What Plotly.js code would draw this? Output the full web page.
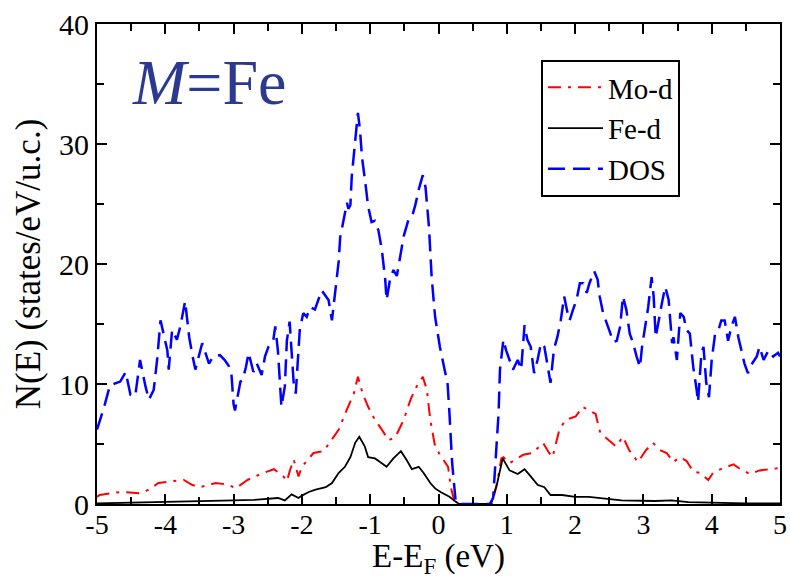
<!DOCTYPE html>
<html>
<head>
<meta charset="utf-8">
<script src="https://cdn.plot.ly/plotly-3.0.1.min.js"></script>
<style>html,body{margin:0;padding:0;background:#fff;}#chart{width:790px;height:579px;}</style>
</head>
<body>
<div id="chart"></div>
<script>
// ---- data ----
var dosE = [-5.0,-4.9,-4.81,-4.66,-4.58,-4.51,-4.44,-4.37,-4.29,-4.24,-4.17,-4.12,-4.07,-4.02,-3.97,-3.95,-3.90,-3.83,-3.78,-3.71,-3.65,-3.60,-3.56,-3.46,-3.36,-3.30,-3.20,-3.13,-3.07,-3.03,-3.0,-2.98,-2.9,-2.87,-2.82,-2.78,-2.71,-2.66,-2.59,-2.54,-2.49,-2.42,-2.39,-2.35,-2.30,-2.25,-2.22,-2.18,-2.15,-2.12,-2.09,-2.06,-2.03,-1.98,-1.93,-1.88,-1.81,-1.76,-1.71,-1.66,-1.61,-1.56,-1.51,-1.46,-1.44,-1.39,-1.34,-1.32,-1.29,-1.27,-1.23,-1.20,-1.18,-1.15,-1.12,-1.07,-1.03,-0.98,-0.93,-0.88,-0.83,-0.78,-0.76,-0.71,-0.66,-0.61,-0.56,-0.51,-0.44,-0.39,-0.34,-0.29,-0.23,-0.19,-0.14,-0.10,-0.05,0.02,0.10,0.13,0.16,0.20,0.25,0.30,0.75,0.80,0.83,0.88,0.90,0.95,0.99,1.04,1.09,1.16,1.21,1.26,1.30,1.35,1.40,1.45,1.50,1.55,1.60,1.64,1.69,1.74,1.79,1.84,1.89,1.92,1.97,2.02,2.07,2.12,2.17,2.21,2.28,2.33,2.36,2.41,2.48,2.56,2.61,2.66,2.70,2.75,2.80,2.85,2.90,2.95,2.98,3.02,3.07,3.12,3.15,3.18,3.23,3.28,3.32,3.37,3.42,3.44,3.49,3.54,3.59,3.63,3.68,3.73,3.78,3.80,3.85,3.88,3.92,3.96,4.00,4.05,4.10,4.14,4.19,4.24,4.29,4.34,4.39,4.44,4.48,4.53,4.58,4.66,4.70,4.76,4.83,4.90,4.97,5.0];
var dosN = [6.2,8.0,9.9,10.2,11.0,9.1,9.0,12.0,9.8,8.7,9.5,12.0,15.3,13.9,12.8,11.2,14.5,13.7,14.8,16.9,13.9,12.3,11.2,13.4,11.7,12.3,12.4,12.0,11.5,10.7,8.3,7.8,10.2,10.3,11.4,12.6,11.0,11.7,10.75,12.3,13.1,13.6,14.8,12.7,8.1,9.8,13.6,15.2,12.5,10.1,9.2,12.0,14.6,15.9,15.6,16.4,16.2,17.0,17.8,17.4,17.0,15.3,18.1,20.3,22.2,23.7,25.1,24.6,24.9,27.3,29.8,31.7,32.6,31.2,28.9,26.7,24.8,23.5,23.6,22.8,21.2,18.7,17.0,18.7,19.5,19.0,20.6,22.3,23.7,23.9,24.9,26.2,27.4,26.4,23.1,18.9,15.6,13.1,10.9,10.3,7.6,3.4,0.3,0,0,0.5,3.1,7.6,11.2,13.7,12.8,12.0,11.2,12.0,11.2,14.9,13.7,13.1,10.9,12.0,13.4,13.1,11.5,10.1,12.9,13.9,15.3,17.3,15.9,15.3,16.2,17.0,18.4,18.4,17.6,18.4,19.4,18.7,17.3,15.9,14.8,13.5,13.6,14.8,17.3,16.2,14.2,13.4,12.3,11.4,13.1,14.5,16.4,18.9,17.3,13.9,15.6,17.0,18.1,17.0,13.4,13.9,12.0,15.9,15.6,14.5,14.2,11.4,9.5,8.5,12.6,13.1,10.1,8.9,12.0,14.2,14.5,15.3,15.3,13.6,14.8,15.6,13.9,12.8,11.7,10.9,11.6,12.3,13.1,12.0,12.8,12.3,12.6,12.3];

var moE = [-5.0,-4.96,-4.66,-4.37,-4.24,-4.10,-3.90,-3.73,-3.61,-3.50,-3.26,-3.07,-2.97,-2.80,-2.56,-2.41,-2.27,-2.22,-2.17,-2.12,-2.05,-2.00,-1.83,-1.68,-1.61,-1.46,-1.37,-1.24,-1.18,-1.11,-1.03,-0.93,-0.83,-0.73,-0.63,-0.51,-0.41,-0.32,-0.23,-0.17,-0.12,-0.05,0.02,0.10,0.14,0.18,0.23,0.28,0.78,0.85,0.92,0.95,1.04,1.24,1.38,1.53,1.62,1.67,1.77,1.86,2.01,2.11,2.20,2.30,2.37,2.50,2.60,2.70,2.79,2.92,3.04,3.14,3.24,3.34,3.44,3.53,3.63,3.73,3.83,3.95,4.02,4.17,4.32,4.42,4.56,4.70,4.85,5.0];
var moN = [0.6,0.75,1.0,0.9,1.2,1.75,1.9,2.0,1.6,1.4,1.75,1.6,1.3,2.0,2.6,2.9,2.3,1.9,2.9,3.7,2.3,3.1,4.25,4.4,5.0,6.2,7.5,9.2,10.6,9.2,8.1,7.0,6.2,5.3,5.6,7.0,8.7,9.8,10.6,9.5,7.0,4.8,4.1,3.5,3.1,1.4,0.3,0,0,1.5,3.8,3.9,3.4,4.1,4.25,5.1,4.25,3.9,6.2,7.0,7.3,8.1,7.8,7.5,5.9,5.3,4.8,5.6,4.5,3.5,4.5,5.1,4.5,4.25,3.5,3.9,3.6,2.7,2.6,2.0,2.6,3.0,3.3,2.9,2.5,2.8,2.9,3.0];

var feE = [-5.0,-4.5,-4.0,-3.5,-3.0,-2.7,-2.5,-2.35,-2.25,-2.15,-2.05,-2.0,-1.9,-1.8,-1.65,-1.56,-1.46,-1.37,-1.29,-1.22,-1.16,-1.08,-1.03,-0.93,-0.83,-0.76,-0.66,-0.55,-0.46,-0.39,-0.29,-0.22,-0.12,-0.05,0.03,0.16,0.25,0.30,0.75,0.78,0.86,0.94,0.99,1.04,1.16,1.26,1.35,1.45,1.55,1.64,1.81,2.0,2.2,2.39,2.68,3.17,3.41,3.66,4.0,4.5,5.0];
var feN = [0.05,0.1,0.15,0.2,0.3,0.35,0.4,0.5,0.3,0.8,0.5,0.7,1.0,1.2,1.4,1.75,2.6,3.1,3.9,5.1,5.6,4.8,3.9,3.8,3.4,3.1,3.8,4.4,3.6,2.9,3.1,2.6,1.75,1.3,1.0,0.6,0.2,0,0,0.2,1.75,3.8,3.3,2.8,2.5,2.9,2.3,1.6,1.4,0.75,0.75,0.6,0.6,0.5,0.3,0.25,0.3,0.15,0.1,0.05,0.05];

var xTickVals = [-5,-4,-3,-2,-1,0,1,2,3,4,5];
var xTickText = ["-5","-4","-3","-2","-1","0","1","2","3","4","5"];
var yTickVals = [0,10,20,30,40];
var yTickText = ["0","10","20","30","40"];

var serif = "Liberation Serif";

var traces = [
  {x: moE, y: moN, type: "scatter", mode: "lines", name: "Mo-d",
   line: {color: "#ff0000", width: 2, dash: "13px,7px,3px,7px"}},
  {x: feE, y: feN, type: "scatter", mode: "lines", name: "Fe-d",
   line: {color: "#000000", width: 1.8}},
  {x: dosE, y: dosN, type: "scatter", mode: "lines", name: "DOS",
   line: {color: "#0000ff", width: 2.5, dash: "17px,8px"}}
];

var axisCommon = {
  showgrid: false, zeroline: false, showline: true, linecolor: "#000", linewidth: 2,
  mirror: "allticks", ticks: "inside", tickcolor: "#000", tickwidth: 2, ticklen: 10
};

var layout = {
  width: 790, height: 579,
  margin: {l: 97, r: 10, t: 24, b: 75},
  paper_bgcolor: "#fff", plot_bgcolor: "#fff",
  showlegend: true,
  legend: {x: 0.65, y: 0.925, xanchor: "left", yanchor: "top",
           bgcolor: "#fff", bordercolor: "#000", borderwidth: 2,
           itemwidth: 55,
           font: {family: serif, size: 29, color: "#000"}},
  xaxis: Object.assign({}, axisCommon, {
    range: [-5, 5], tickmode: "array", tickvals: xTickVals, ticktext: xTickText,
    tickfont: {family: serif, size: 28, color: "#000"},
    ticklabelstandoff: -6,
    minor: {dtick: 0.5, ticks: "inside", ticklen: 7, tickwidth: 2, tickcolor: "#000", showgrid: false},
    title: {text: "E-E<sub>F</sub> (eV)", font: {family: serif, size: 33, color: "#000"}, standoff: 18}
  }),
  yaxis: Object.assign({}, axisCommon, {
    range: [0, 40], tickmode: "array", tickvals: yTickVals, ticktext: yTickText,
    tickfont: {family: serif, size: 30, color: "#000"},
    minor: {dtick: 5, ticks: "inside", ticklen: 7, tickwidth: 2, tickcolor: "#000", showgrid: false},
    title: {text: "N(E) (states/eV/u.c.)", font: {family: serif, size: 35, color: "#000"}, standoff: 8}
  }),
  annotations: [
    {xref: "paper", yref: "paper", x: 0.048, y: 0.80, xanchor: "left", yanchor: "bottom",
     text: "<i>M</i>=Fe", showarrow: false,
     font: {family: serif, size: 64, color: "#2b3990"}}
  ]
};

Plotly.newPlot("chart", traces, layout, {displayModeBar: false, staticPlot: true});
</script>
</body>
</html>
